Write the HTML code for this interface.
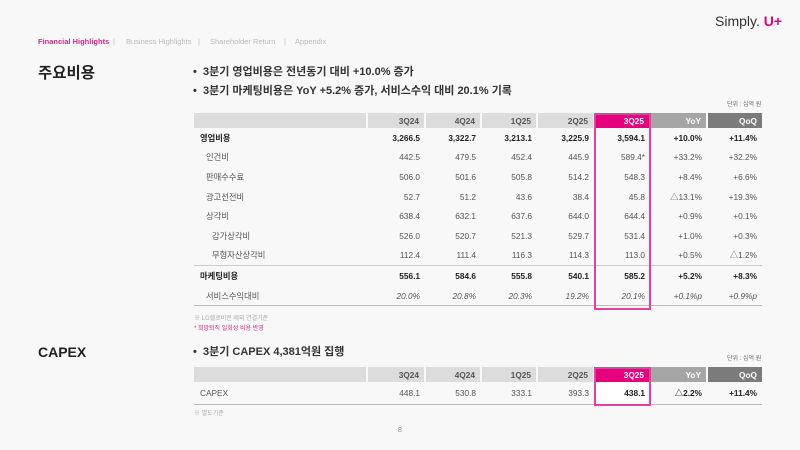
<!DOCTYPE html>
<html><head><meta charset="utf-8"><style>
body{margin:0;width:800px;height:450px;background:#f9f8f9;font-family:"Liberation Sans","Noto Sans CJK KR",sans-serif;position:relative;overflow:hidden;color:#333}
.a{position:absolute;white-space:nowrap}
.nav{top:37px;font-size:7.5px;color:#bbb}
table{position:absolute;left:194px;width:568px;table-layout:fixed;border-collapse:collapse;font-size:8.3px}
td{height:19.6px;padding:0 5px 0 0;text-align:right;color:#555;overflow:hidden;white-space:nowrap}
td:first-child{text-align:left;padding-left:6px}
th{height:15px;background:#dcdcdc;font-weight:bold;color:#555;text-align:right;padding:0 5px 0 0;font-size:8.3px;border-left:2px solid #f9f8f9}
th:first-child{border-left:none}
.p{background:#e6007e!important;color:#fff!important}
.y{background:#a5a5a5!important;color:#fff!important}
.q{background:#7b7b7b!important;color:#fff!important}
.b td{font-weight:bold;color:#222}
.i td{font-style:italic}
.box{position:absolute;border:2px solid #ec3ca0;box-sizing:border-box}
</style></head><body>
<div class="a nav" style="left:38px;color:#d0288a;font-weight:bold">Financial Highlights</div>
<div class="a nav" style="left:113px">|</div>
<div class="a nav" style="left:126px">Business Highlights</div>
<div class="a nav" style="left:198px">|</div>
<div class="a nav" style="left:210px">Shareholder Return</div>
<div class="a nav" style="left:284px">|</div>
<div class="a nav" style="left:295px">Appendix</div>
<div class="a" style="left:715px;top:13px;font-size:14px;color:#333">Simply. <span style="color:#e6007e;font-weight:bold">U+</span></div>
<div class="a" style="left:38px;top:61px;font-size:15.5px;font-weight:bold;color:#222">주요비용</div>
<div class="a" style="left:193px;top:63px;font-size:11px;font-weight:bold;color:#333">•&nbsp;&nbsp;3분기 영업비용은 전년동기 대비 +10.0% 증가</div>
<div class="a" style="left:193px;top:82px;font-size:11px;font-weight:bold;color:#333">•&nbsp;&nbsp;3분기 마케팅비용은 YoY +5.2% 증가, 서비스수익 대비 20.1% 기록</div>
<div class="a" style="left:727px;top:99px;font-size:6px;color:#666">단위 : 십억 원</div>
<table style="top:113px">
<colgroup><col style="width:173px"><col style="width:58px"><col style="width:56px"><col style="width:56px"><col style="width:57px"><col style="width:56px"><col style="width:57px"><col style="width:55px"></colgroup>
<tr><th></th><th>3Q24</th><th>4Q24</th><th>1Q25</th><th>2Q25</th><th class="p">3Q25</th><th class="y">YoY</th><th class="q">QoQ</th></tr>
<tr class="b"><td>영업비용</td><td>3,266.5</td><td>3,322.7</td><td>3,213.1</td><td>3,225.9</td><td>3,594.1</td><td>+10.0%</td><td>+11.4%</td></tr>
<tr><td style="padding-left:12px">인건비</td><td>442.5</td><td>479.5</td><td>452.4</td><td>445.9</td><td>589.4*</td><td>+33.2%</td><td>+32.2%</td></tr>
<tr><td style="padding-left:12px">판매수수료</td><td>506.0</td><td>501.6</td><td>505.8</td><td>514.2</td><td>548.3</td><td>+8.4%</td><td>+6.6%</td></tr>
<tr><td style="padding-left:12px">광고선전비</td><td>52.7</td><td>51.2</td><td>43.6</td><td>38.4</td><td>45.8</td><td>△13.1%</td><td>+19.3%</td></tr>
<tr><td style="padding-left:12px">상각비</td><td>638.4</td><td>632.1</td><td>637.6</td><td>644.0</td><td>644.4</td><td>+0.9%</td><td>+0.1%</td></tr>
<tr><td style="padding-left:18px">감가상각비</td><td>526.0</td><td>520.7</td><td>521.3</td><td>529.7</td><td>531.4</td><td>+1.0%</td><td>+0.3%</td></tr>
<tr style="border-bottom:1px solid #ccc"><td style="padding-left:18px">무형자산상각비</td><td>112.4</td><td>111.4</td><td>116.3</td><td>114.3</td><td>113.0</td><td>+0.5%</td><td>△1.2%</td></tr>
<tr class="b"><td>마케팅비용</td><td>556.1</td><td>584.6</td><td>555.8</td><td>540.1</td><td>585.2</td><td>+5.2%</td><td>+8.3%</td></tr>
<tr class="i" style="border-bottom:1px solid #bbb"><td style="padding-left:12px;font-style:normal">서비스수익대비</td><td>20.0%</td><td>20.8%</td><td>20.3%</td><td>19.2%</td><td>20.1%</td><td>+0.1%p</td><td>+0.9%p</td></tr>
</table>
<div class="box" style="left:594px;top:113px;width:57px;height:197px"></div>
<div class="a" style="left:194px;top:313px;font-size:6px;color:#aaa">※ LG헬로비전 제외 연결기준</div>
<div class="a" style="left:194px;top:323px;font-size:6px;color:#d0288a">* 희망퇴직 일회성 비용 반영</div>
<div class="a" style="left:38px;top:344px;font-size:14px;font-weight:bold;color:#222">CAPEX</div>
<div class="a" style="left:193px;top:343px;font-size:11px;font-weight:bold;color:#333">•&nbsp;&nbsp;3분기 CAPEX 4,381억원 집행</div>
<div class="a" style="left:727px;top:353px;font-size:6px;color:#666">단위 : 십억 원</div>
<table style="top:367px">
<colgroup><col style="width:173px"><col style="width:58px"><col style="width:56px"><col style="width:56px"><col style="width:57px"><col style="width:56px"><col style="width:57px"><col style="width:55px"></colgroup>
<tr><th></th><th>3Q24</th><th>4Q24</th><th>1Q25</th><th>2Q25</th><th class="p">3Q25</th><th class="y">YoY</th><th class="q">QoQ</th></tr>
<tr style="border-bottom:1px solid #bbb"><td style="height:22px">CAPEX</td><td>448.1</td><td>530.8</td><td>333.1</td><td>393.3</td><td style="background:#fff;font-weight:bold;color:#222">438.1</td><td style="font-weight:bold;color:#222">△2.2%</td><td style="font-weight:bold;color:#222">+11.4%</td></tr>
</table>
<div class="box" style="left:594px;top:367px;width:57px;height:39px"></div>
<div class="a" style="left:194px;top:408px;font-size:6px;color:#aaa">※ 별도기준</div>
<div class="a" style="left:398px;top:427px;font-size:7px;color:#888">8</div>
</body></html>
